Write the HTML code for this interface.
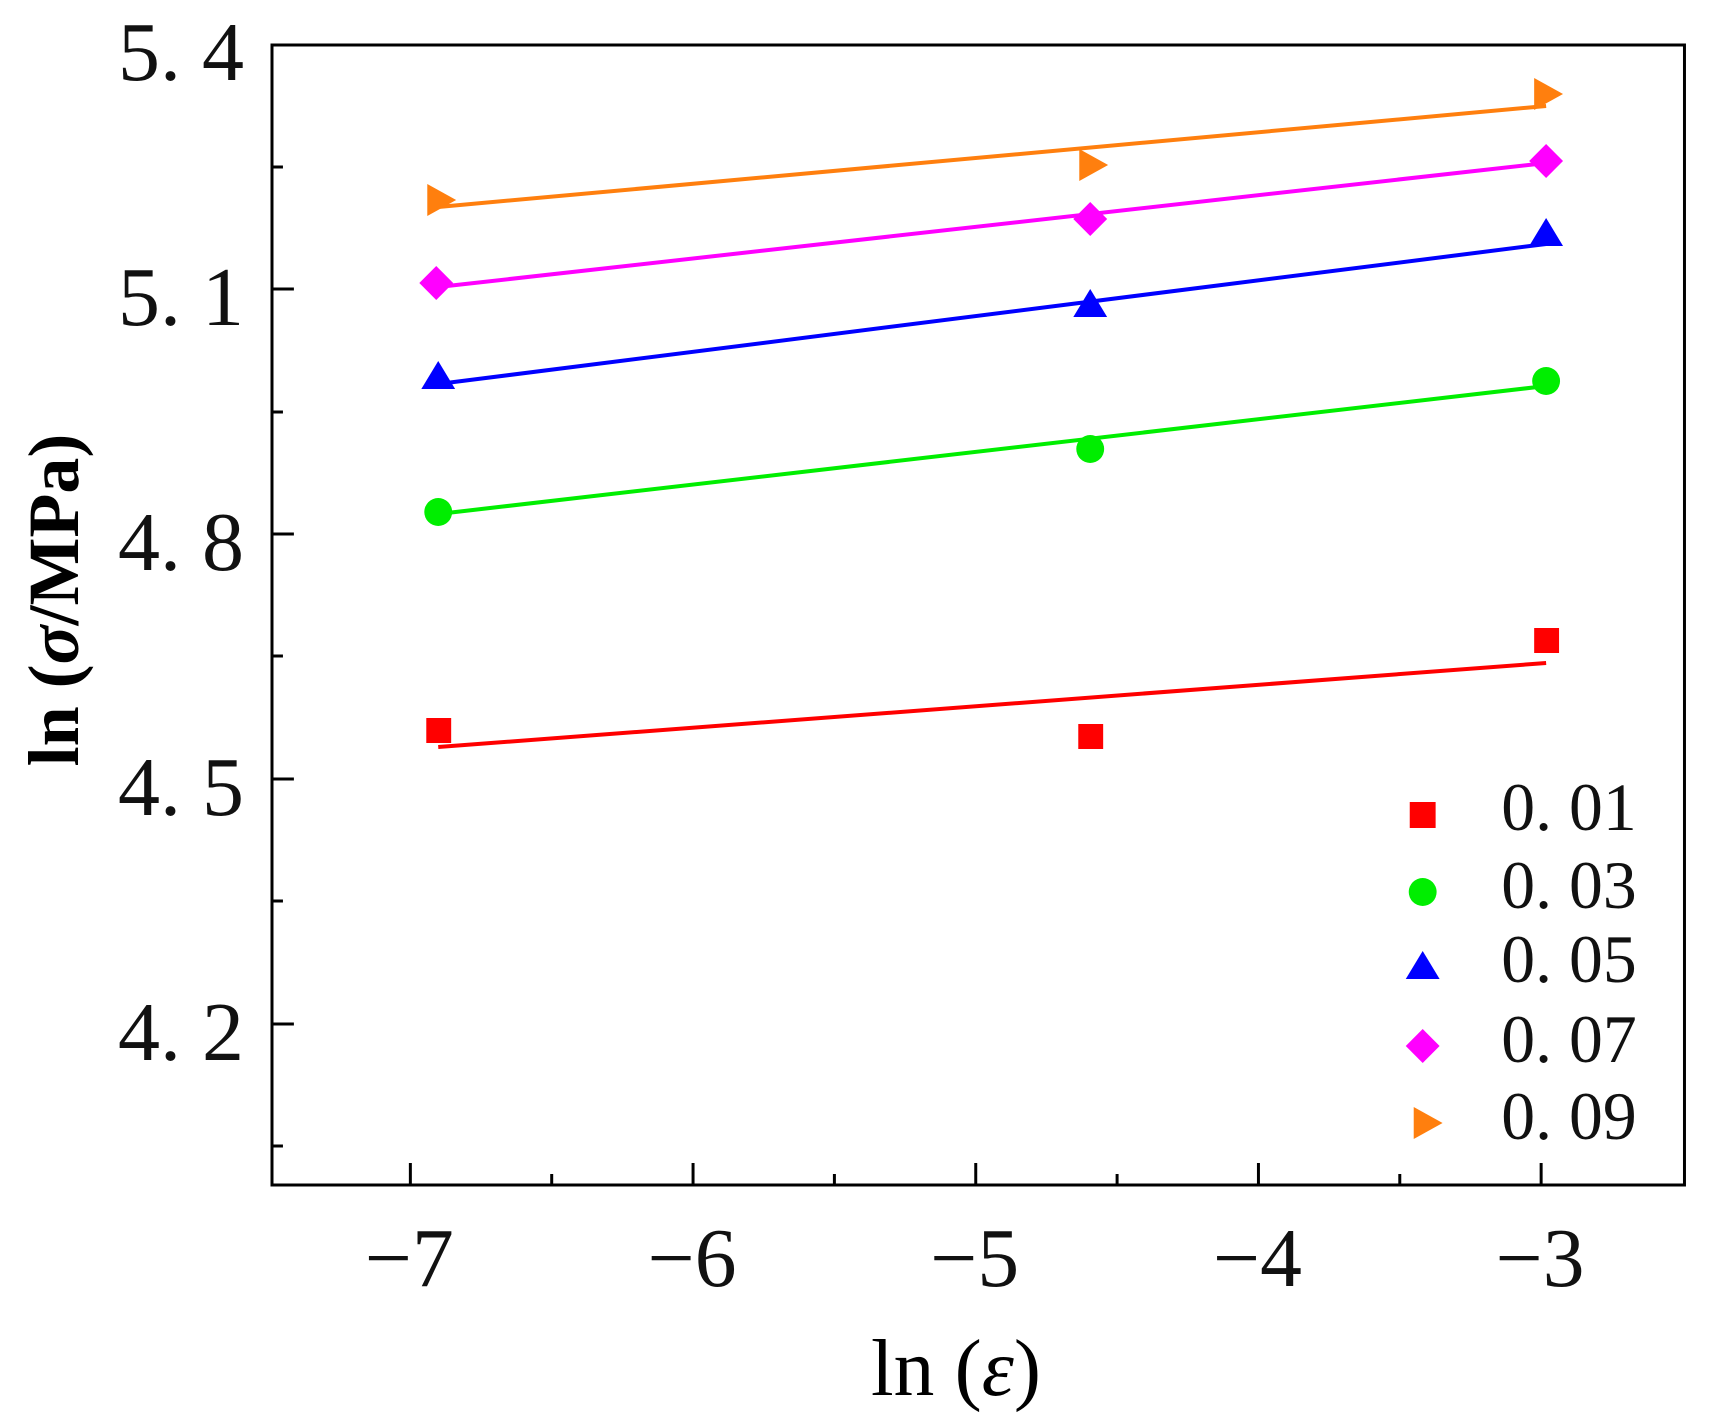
<!DOCTYPE html>
<html><head><meta charset="utf-8"><style>body{margin:0;background:#fff}svg{display:block}</style></head>
<body>
<svg width="1716" height="1428" viewBox="0 0 1716 1428" xmlns="http://www.w3.org/2000/svg" font-family="Liberation Serif, serif">
<rect x="0" y="0" width="1716" height="1428" fill="#fff"/>
<g transform="translate(272,0) scale(0.9954,1) translate(-272,0)">
<rect x="272" y="45" width="1419" height="1140" fill="none" stroke="#000" stroke-width="3"/>
<g stroke="#000" stroke-width="3">
<line x1="411" y1="1185" x2="411" y2="1163"/><line x1="695" y1="1185" x2="695" y2="1163"/><line x1="979" y1="1185" x2="979" y2="1163"/><line x1="1263" y1="1185" x2="1263" y2="1163"/><line x1="1547" y1="1185" x2="1547" y2="1163"/>
<line x1="553" y1="1185" x2="553" y2="1174"/><line x1="837" y1="1185" x2="837" y2="1174"/><line x1="1121" y1="1185" x2="1121" y2="1174"/><line x1="1405" y1="1185" x2="1405" y2="1174"/>
<line x1="272" y1="45" x2="294" y2="45"/><line x1="272" y1="289" x2="294" y2="289"/><line x1="272" y1="534" x2="294" y2="534"/><line x1="272" y1="779" x2="294" y2="779"/><line x1="272" y1="1024" x2="294" y2="1024"/>
<line x1="272" y1="167" x2="283" y2="167"/><line x1="272" y1="412" x2="283" y2="412"/><line x1="272" y1="656" x2="283" y2="656"/><line x1="272" y1="901" x2="283" y2="901"/><line x1="272" y1="1146" x2="283" y2="1146"/>
</g>
<g font-size="84" text-anchor="middle" fill="#111">
<text x="410" y="1286">−7</text><text x="694" y="1286">−6</text><text x="978" y="1286">−5</text><text x="1262" y="1286">−4</text><text x="1546" y="1286">−3</text>
</g>
<g stroke-width="4" fill="none">
<line x1="439" y1="207" x2="1552" y2="106" stroke="#ff7f0e"/>
<line x1="439" y1="287" x2="1552" y2="163" stroke="#ff00ff"/>
<line x1="439" y1="384" x2="1552" y2="244" stroke="#0000ff"/>
<line x1="439" y1="514" x2="1552" y2="386" stroke="#00ee00"/>
<line x1="439" y1="747" x2="1552" y2="663" stroke="#ff0000"/>
</g>
<g fill="#ff7f0e"><path d="M428,184 L457,200 L428,216Z"/><path d="M1083,149 L1112,165 L1083,181Z"/><path d="M1540,78 L1569,94 L1540,110Z"/></g>
<g fill="#ff00ff"><path d="M437,266 L454,283 L437,300 L420,283Z"/><path d="M1094,202 L1111,219 L1094,236 L1077,219Z"/><path d="M1552,144 L1569,161 L1552,178 L1535,161Z"/></g>
<g fill="#0000ff"><path d="M439,361 L456,389 L422,389Z"/><path d="M1094,289 L1111,317 L1077,317Z"/><path d="M1552,218 L1569,246 L1535,246Z"/></g>
<g fill="#00ee00"><circle cx="439" cy="512" r="14"/><circle cx="1094" cy="449" r="14"/><circle cx="1552" cy="381" r="14"/></g>
<g fill="#ff0000"><rect x="427" y="718" width="25" height="25"/><rect x="1082" y="724" width="25" height="25"/><rect x="1540" y="628" width="25" height="25"/></g>
<rect x="1415" y="802" width="26" height="26" fill="#ff0000"/>
<circle cx="1428" cy="892" r="14" fill="#00ee00"/>
<path d="M1428,951 L1445,979 L1411,979Z" fill="#0000ff"/>
<path d="M1428,1029 L1445,1046 L1428,1063 L1411,1046Z" fill="#ff00ff"/>
<path d="M1419,1107 L1448,1123 L1419,1139Z" fill="#ff7f0e"/>
<g font-size="68" fill="#111">
<text x="1507" y="830">0. 01</text><text x="1507" y="908">0. 03</text><text x="1507" y="982">0. 05</text><text x="1507" y="1062">0. 07</text><text x="1507" y="1139">0. 09</text>
</g>
</g>
<g font-size="84" text-anchor="end" fill="#111">
<text x="244" y="80">5. 4</text><text x="244" y="325">5. 1</text><text x="244" y="570">4. 8</text><text x="244" y="815">4. 5</text><text x="244" y="1060">4. 2</text>
</g>
<text x="871" y="1395" font-size="80" textLength="170" lengthAdjust="spacingAndGlyphs">ln (<tspan font-style="italic">ε</tspan>)</text>
<text transform="translate(78,600) rotate(-90)" font-size="72" font-weight="bold" text-anchor="middle">ln (<tspan font-style="italic">σ</tspan>/MPa)</text>
</svg>
</body></html>
